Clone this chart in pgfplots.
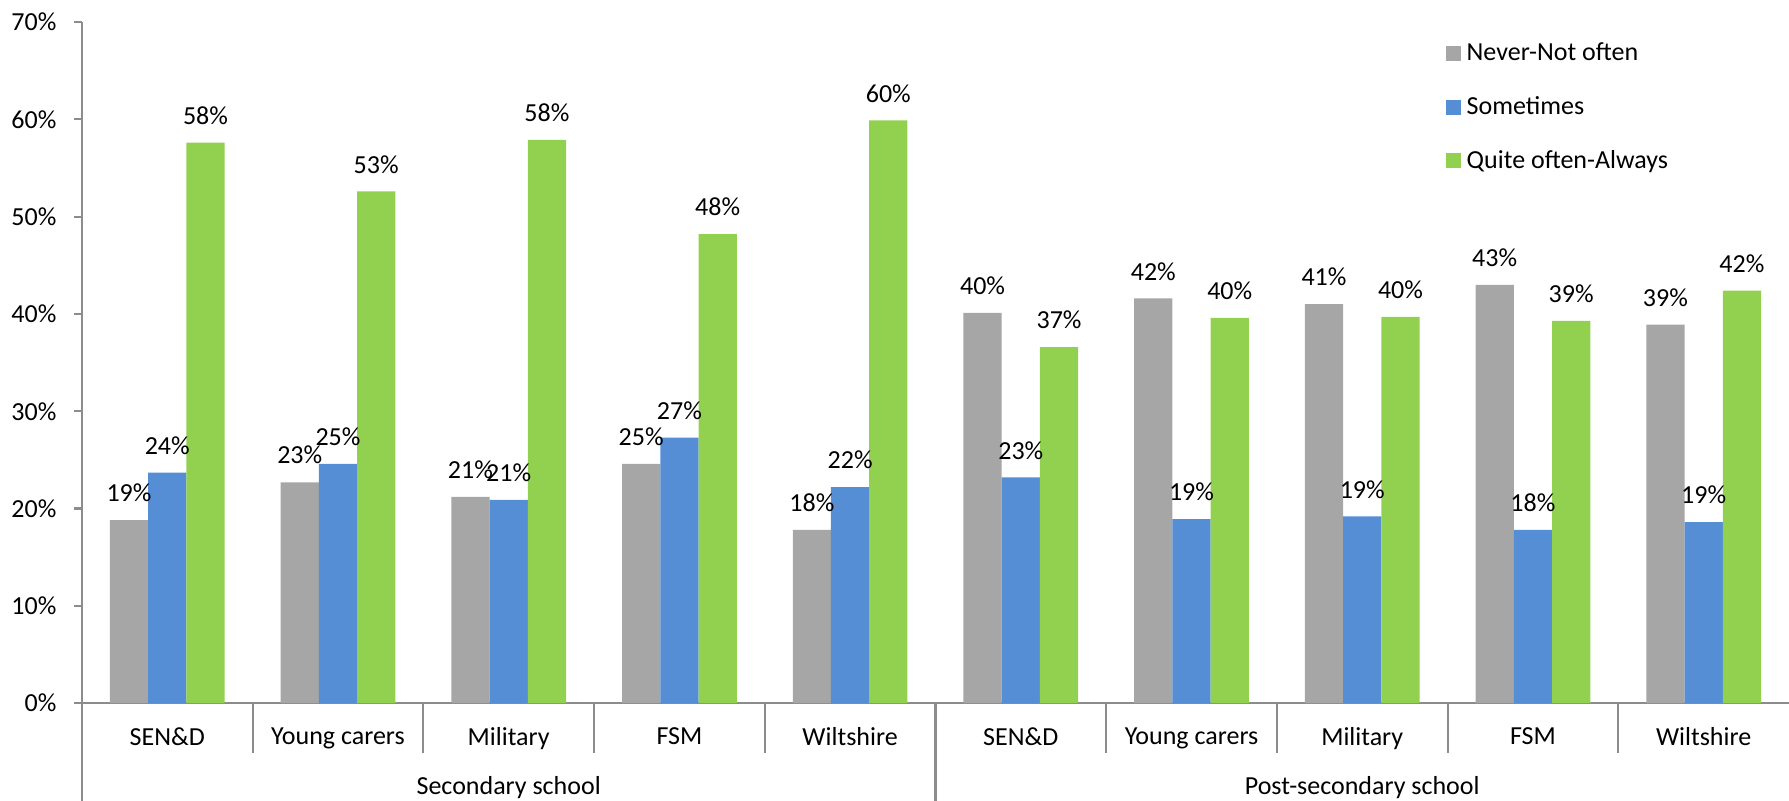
\documentclass[border=0pt]{standalone}
\usepackage{fontspec}
\setmainfont{Carlito}
\usepackage{pgfplots}
\pgfplotsset{compat=1.18}
\definecolor{cgray}{HTML}{A6A6A6}
\definecolor{cblue}{HTML}{558ED5}
\definecolor{cgreen}{HTML}{92D050}
\definecolor{axgray}{HTML}{8C8C8C}
\pgfplotsset{
  mybar/.style={fill=#1, draw=none,
    legend image code/.code={\fill[#1] (0pt,-2.9pt) rectangle (5.8pt,2.9pt);}},
}
\begin{document}
\begin{tikzpicture}
\begin{axis}[
  width=656.5pt, height=261.9pt, scale only axis,
  ymin=0, ymax=70, xmin=-0.5, xmax=9.5,
  clip=false,
  ybar=0pt, bar width=0.224,
  axis x line*=bottom, axis y line*=left,
  axis line style={-, draw=axgray, line width=0.8pt},
  /pgf/number format/assume math mode=true,
  font=\fontsize{10}{12}\selectfont,
  ytick={0,10,...,70},
  yticklabel={\pgfmathprintnumber{\tick}\%},
  tick align=outside,
  major tick length=3pt,
  ytick style={draw=axgray, line width=0.8pt},
  xtick style={draw=none},
  yticklabel style={xshift=-3.3pt, font=\fontsize{10}{12}\selectfont},
  xtick=data,
  xticklabels={SEN\&D, Young carers, Military, FSM, Wiltshire, SEN\&D, Young carers, Military, FSM, Wiltshire},
  xticklabel style={yshift=-3pt, font=\fontsize{10}{12}\selectfont},
  nodes near coords={\pgfmathprintnumber[fixed,precision=0]{\pgfplotspointmeta}\%},
  every node near coord/.append style={font=\fontsize{10}{12}\selectfont, anchor=center, yshift=10.4pt},
  legend style={draw=none, fill=none, at={(0.799,1)}, anchor=north west, yshift=-5.8pt,
    inner sep=0pt, row sep=8.2pt, font=\fontsize{10}{12}\selectfont},
  legend cell align=left,
]
\addplot[mybar=cgray] coordinates {(0,18.8) (1,22.7) (2,21.2) (3,24.6) (4,17.8) (5,40.1) (6,41.6) (7,41.0) (8,43.0) (9,38.9)};
\addlegendentry{Never-Not often}
\addplot[mybar=cblue] coordinates {(0,23.7) (1,24.6) (2,20.9) (3,27.3) (4,22.2) (5,23.2) (6,18.9) (7,19.2) (8,17.8) (9,18.6)};
\addlegendentry{Sometimes}
\addplot[mybar=cgreen] coordinates {(0,57.6) (1,52.6) (2,57.9) (3,48.2) (4,59.9) (5,36.6) (6,39.6) (7,39.7) (8,39.3) (9,42.4)};
\addlegendentry{Quite often-Always}
\draw[axgray, line width=0.8pt] (axis cs:0.5,0) -- ++(0pt,-19.2pt);
\draw[axgray, line width=0.8pt] (axis cs:1.5,0) -- ++(0pt,-19.2pt);
\draw[axgray, line width=0.8pt] (axis cs:2.5,0) -- ++(0pt,-19.2pt);
\draw[axgray, line width=0.8pt] (axis cs:3.5,0) -- ++(0pt,-19.2pt);
\draw[axgray, line width=0.8pt] (axis cs:5.5,0) -- ++(0pt,-19.2pt);
\draw[axgray, line width=0.8pt] (axis cs:6.5,0) -- ++(0pt,-19.2pt);
\draw[axgray, line width=0.8pt] (axis cs:7.5,0) -- ++(0pt,-19.2pt);
\draw[axgray, line width=0.8pt] (axis cs:8.5,0) -- ++(0pt,-19.2pt);
\draw[axgray, line width=0.8pt] (axis cs:4.5,0) -- ++(0pt,-45pt);
\draw[axgray, line width=0.8pt] (axis cs:-0.5,0) -- ++(0pt,-45pt);
\node[font=\fontsize{10}{12}\selectfont] at ([yshift=-32.3pt]axis cs:2,0) {Secondary school};
\node[font=\fontsize{10}{12}\selectfont] at ([yshift=-32.3pt]axis cs:7,0) {Post-secondary school};
\coordinate (bl) at (rel axis cs:0,0);
\coordinate (tr) at (rel axis cs:1,1);
\end{axis}
\pgfresetboundingbox
\path[use as bounding box] ([shift={(-31.5pt,-37.3pt)}]bl) rectangle ([shift={(0pt,8.5pt)}]tr);
\end{tikzpicture}
\end{document}
